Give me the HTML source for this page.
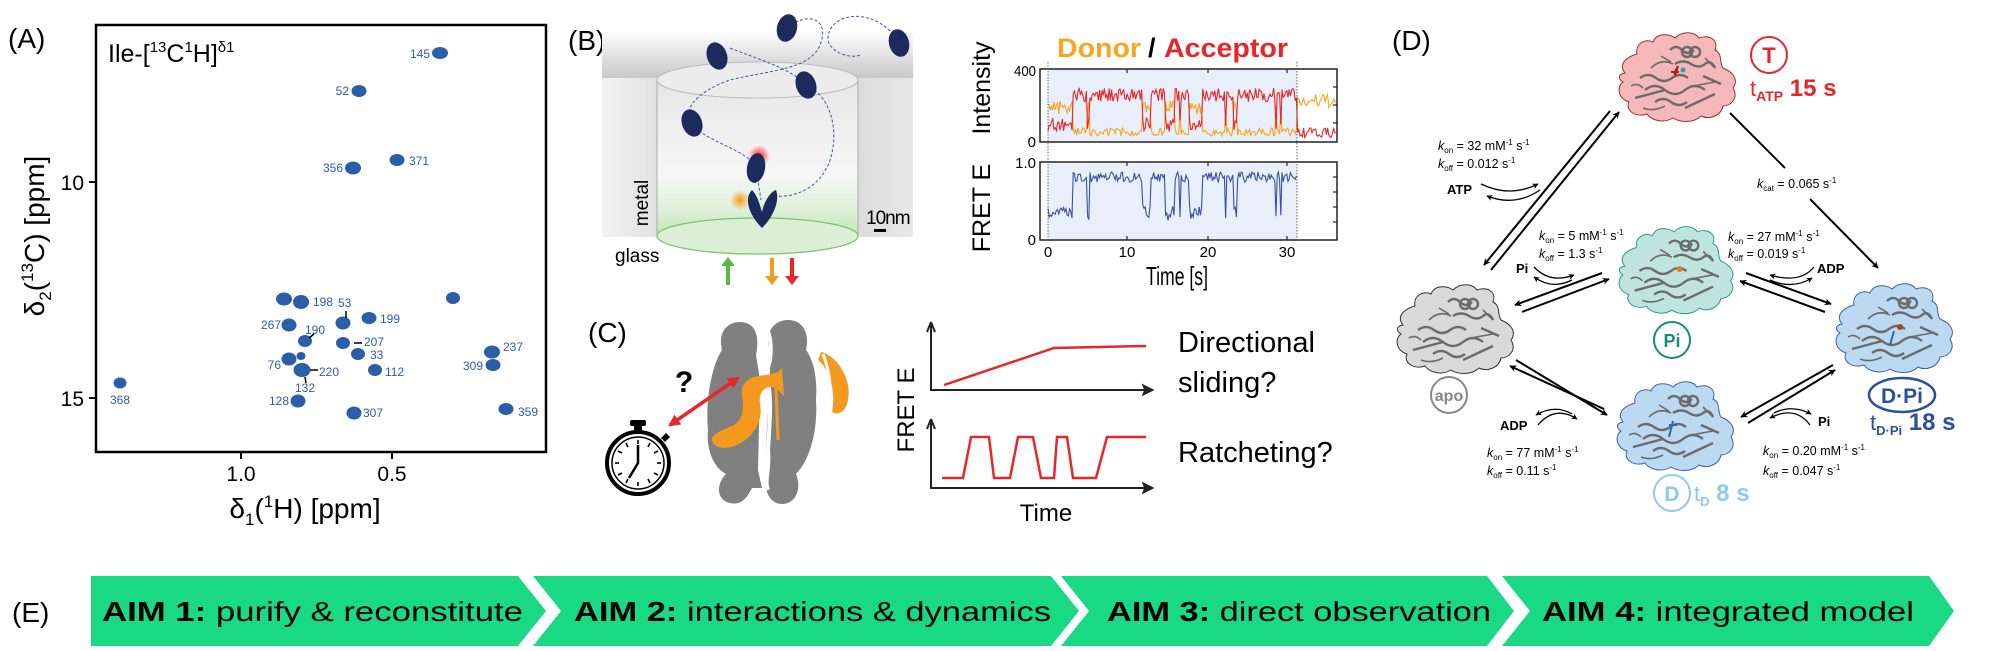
<!DOCTYPE html>
<html><head><meta charset="utf-8">
<style>
html,body{margin:0;padding:0;background:#fff;}
svg{display:block;font-family:"Liberation Sans",sans-serif;}
</style></head>
<body>
<svg id="s" width="1990" height="651" viewBox="0 0 1990 651" xmlns="http://www.w3.org/2000/svg">
<defs>
<marker id="ah" viewBox="0 0 10 10" refX="9" refY="5" markerWidth="7" markerHeight="7" orient="auto-start-reverse" markerUnits="userSpaceOnUse"><path d="M0,0 L10,5 L0,10 L3,5 z" fill="#000"/></marker>
<marker id="ahs" viewBox="0 0 10 10" refX="9" refY="5" markerWidth="6" markerHeight="6" orient="auto" markerUnits="userSpaceOnUse"><path d="M0,0 L10,5 L0,10 L3,5 z" fill="#000"/></marker>
<marker id="ahr" viewBox="0 0 10 10" refX="8" refY="5" markerWidth="12" markerHeight="12" orient="auto-start-reverse" markerUnits="userSpaceOnUse"><path d="M0,0 L10,5 L0,10 z" fill="#e8262a"/></marker>
<marker id="ahk" viewBox="0 0 10 10" refX="8" refY="5" markerWidth="13" markerHeight="13" orient="auto" markerUnits="userSpaceOnUse"><path d="M0,0 L10,5 L0,10 L2,5 z" fill="#222"/></marker>
<linearGradient id="topg" x1="0" y1="0" x2="0" y2="1"><stop offset="0" stop-color="#fff"/><stop offset="1" stop-color="#c8c8c8"/></linearGradient>
<linearGradient id="slab" x1="0" y1="0" x2="1" y2="0"><stop offset="0" stop-color="#f2f2f2"/><stop offset="0.5" stop-color="#c4c4c4"/><stop offset="1" stop-color="#e8e8e8"/></linearGradient>
<linearGradient id="cyl" x1="0" y1="0" x2="0" y2="1"><stop offset="0" stop-color="#e6e6e6"/><stop offset="0.55" stop-color="#f7f7f7"/><stop offset="0.78" stop-color="#d8efd2"/><stop offset="1" stop-color="#a8dc98"/></linearGradient>
<radialGradient id="rglow"><stop offset="0" stop-color="#ff2020"/><stop offset="1" stop-color="#ff2020" stop-opacity="0"/></radialGradient>
<radialGradient id="oglow"><stop offset="0" stop-color="#ff9a10"/><stop offset="1" stop-color="#ff9a10" stop-opacity="0"/></radialGradient>
<path id="blob" d="M10,45 C2,35 14,28 22,26 C20,16 30,10 38,14 C42,4 55,6 60,10 C68,2 80,4 84,10 C94,6 104,12 100,22 C108,26 104,34 108,40 C118,44 124,52 118,60 C124,70 116,78 108,78 C106,88 94,92 86,88 C78,96 64,94 58,90 C48,96 36,92 32,86 C20,90 10,82 14,74 C2,70 2,58 8,54 C2,50 4,46 10,45 Z"/>
<g id="ribbon" fill="none" stroke="#6b6b6b" stroke-width="2.4">
<path d="M25,50 q8,-6 16,0 t16,0 t16,0"/><path d="M30,62 q10,-8 20,0 t20,0 t20,0"/><path d="M40,74 q8,-6 16,0 t16,0"/>
<path d="M55,22 q6,-6 12,0 t12,0"/><path d="M60,36 q8,-5 16,0 t14,0 t10,4"/>
<circle cx="72" cy="24" r="5"/><circle cx="80" cy="24" r="5"/><path d="M20,70 l30,-8 M70,80 l30,-14 M88,48 l18,8"/>
<path d="M16,58 q6,-4 12,2 M36,40 q10,-10 22,-4 M90,30 l10,10 M28,80 q10,4 22,-2 M78,58 l22,-4 M46,28 l10,6" stroke-width="1.6"/>
</g>
</defs>

<!-- ============ PANEL A ============ -->
<text x="8" y="48" font-size="28">(A)</text>
<rect x="96" y="25" width="450" height="427" fill="none" stroke="#000" stroke-width="2.5"/>
<text x="108" y="62" font-size="25">Ile-[<tspan font-size="15" dy="-10">13</tspan><tspan dy="10">C</tspan><tspan font-size="15" dy="-10">1</tspan><tspan dy="10">H]</tspan><tspan font-size="15" dy="-10">δ1</tspan></text>
<g stroke="#000" stroke-width="2"><line x1="89" y1="182" x2="96" y2="182"/><line x1="89" y1="398" x2="96" y2="398"/><line x1="241" y1="452" x2="241" y2="459"/><line x1="392" y1="452" x2="392" y2="459"/></g>
<g font-size="21"><text x="84" y="190" text-anchor="end">10</text><text x="84" y="406" text-anchor="end">15</text>
<text x="241" y="481" text-anchor="middle">1.0</text><text x="392" y="481" text-anchor="middle">0.5</text></g>
<text x="305" y="518" font-size="28" text-anchor="middle">δ<tspan font-size="17" dy="7">1</tspan><tspan dy="-7">(</tspan><tspan font-size="17" dy="-11">1</tspan><tspan dy="11">H)  [ppm]</tspan></text>
<text transform="translate(44,236) rotate(-90)" font-size="28" text-anchor="middle">δ<tspan font-size="17" dy="7">2</tspan><tspan dy="-7">(</tspan><tspan font-size="17" dy="-11">13</tspan><tspan dy="11">C) [ppm]</tspan></text>
<g fill="#2a5ea8">
<ellipse cx="440" cy="53" rx="8" ry="6"/><ellipse cx="359" cy="91" rx="7.5" ry="6"/><ellipse cx="353" cy="168" rx="8" ry="6.5"/><ellipse cx="397" cy="160" rx="7.5" ry="6"/>
<ellipse cx="284" cy="299" rx="8" ry="6.5"/><ellipse cx="301" cy="302" rx="8" ry="7"/><ellipse cx="343" cy="323" rx="7.5" ry="6.5"/><ellipse cx="369" cy="318" rx="7.5" ry="6"/>
<ellipse cx="289" cy="325" rx="7.5" ry="6.5"/><ellipse cx="305" cy="341" rx="7" ry="6"/><ellipse cx="343" cy="343" rx="7" ry="6"/><ellipse cx="358" cy="354" rx="7" ry="6"/>
<ellipse cx="289" cy="359" rx="7.5" ry="6.5"/><ellipse cx="301" cy="356" rx="4.5" ry="4"/><ellipse cx="302" cy="370" rx="8.5" ry="7"/><ellipse cx="375" cy="370" rx="7" ry="6"/>
<ellipse cx="492" cy="352" rx="8" ry="6.5"/><ellipse cx="493" cy="365" rx="7.5" ry="6"/><ellipse cx="298" cy="401" rx="7.5" ry="6.5"/><ellipse cx="354" cy="413" rx="7.5" ry="6.5"/>
<ellipse cx="506" cy="409" rx="7.5" ry="6"/><ellipse cx="120" cy="383" rx="6.5" ry="5.5"/><ellipse cx="453" cy="298" rx="7" ry="6"/>
</g>
<g fill="#2a5ea8" font-size="12">
<text x="430" y="58" text-anchor="end">145</text><text x="349" y="95" text-anchor="end">52</text><text x="343" y="172" text-anchor="end">356</text><text x="409" y="165">371</text>
<text x="313" y="306">198</text><text x="338" y="307">53</text><text x="380" y="323">199</text><text x="281" y="329" text-anchor="end">267</text><text x="305" y="334">190</text>
<text x="364" y="346">207</text><text x="370" y="359">33</text><text x="281" y="369" text-anchor="end">76</text><text x="319" y="376">220</text><text x="295" y="392">132</text>
<text x="385" y="376">112</text><text x="503" y="351">237</text><text x="483" y="370" text-anchor="end">309</text><text x="289" y="405" text-anchor="end">128</text>
<text x="363" y="417">307</text><text x="518" y="416">359</text><text x="120" y="404" text-anchor="middle">368</text>
</g>
<g stroke="#000" stroke-width="1.5"><line x1="346" y1="311" x2="346" y2="318"/><line x1="354" y1="343" x2="362" y2="343"/><line x1="310" y1="370" x2="318" y2="370"/><line x1="305" y1="377" x2="306" y2="383"/><line x1="309" y1="338" x2="314" y2="334"/></g>

<!-- ============ PANEL B ============ -->
<text x="568" y="50" font-size="28">(B)</text>
<path d="M602,30 L913,30 L913,78 L602,78 Z" fill="url(#topg)"/>
<rect x="602" y="78" width="311" height="159" fill="url(#slab)"/>
<path d="M657,80 L858,80 L858,236 A100.5,18 0 0 1 657,236 Z" fill="url(#cyl)" stroke="#aaa" stroke-width="1"/>
<ellipse cx="757.5" cy="80" rx="100.5" ry="18" fill="#ececec" stroke="#bbb"/>
<ellipse cx="757.5" cy="236" rx="100.5" ry="18" fill="#dcefd6" stroke="#7cc46a" stroke-width="1.2"/>
<g fill="none" stroke="#3a5aa0" stroke-width="1" stroke-dasharray="3,2">
<path d="M730,48 C760,60 790,68 806,85 C830,95 840,130 830,160 C820,190 790,200 770,195"/>
<path d="M787,28 C810,10 830,20 820,45 C810,70 770,70 730,80 C700,90 680,110 692,123 C700,140 750,150 756,168"/>
<path d="M899,43 C880,10 840,10 830,30 C820,50 850,60 860,55"/>
<path d="M756,168 L761,200"/>
</g>
<g fill="#1c2a5e">
<ellipse cx="787" cy="28" rx="10" ry="14" transform="rotate(15 787 28)"/><ellipse cx="899" cy="43" rx="10" ry="14" transform="rotate(-15 899 43)"/>
<ellipse cx="717" cy="56" rx="10" ry="14" transform="rotate(-20 717 56)"/><ellipse cx="806" cy="85" rx="10" ry="14" transform="rotate(-20 806 85)"/>
<ellipse cx="692" cy="123" rx="10" ry="14" transform="rotate(-20 692 123)"/>
</g>
<circle cx="759" cy="156" r="11" fill="url(#rglow)"/>
<ellipse cx="756" cy="168" rx="9" ry="15" fill="#1c2a5e" transform="rotate(10 756 168)"/>
<circle cx="740" cy="200" r="10" fill="url(#oglow)"/>
<path d="M762,228 C748,214 744,198 752,190 C758,196 760,206 762,212 C764,202 770,192 776,190 C780,200 774,216 762,228 Z" fill="#1c2a5e"/>
<text transform="translate(648,203) rotate(-90)" font-size="19" text-anchor="middle">metal</text>
<text x="615" y="262" font-size="19">glass</text>
<text x="866" y="224" font-size="19" letter-spacing="-1">10nm</text>
<rect x="874" y="229" width="12" height="3" fill="#000"/>
<line x1="728" y1="285" x2="728" y2="262" stroke="#5cb840" stroke-width="4"/><path d="M721,266 L728,257 L735,266 Z" fill="#5cb840"/>
<line x1="772" y1="258" x2="772" y2="279" stroke="#f59a1e" stroke-width="4"/><path d="M765,276 L772,285 L779,276 Z" fill="#f59a1e"/>
<line x1="792" y1="258" x2="792" y2="279" stroke="#e8262a" stroke-width="4"/><path d="M785,276 L792,285 L799,276 Z" fill="#e8262a"/>

<!-- plots B -->
<text x="1057" y="57" font-size="27" font-weight="bold" fill="#f5a623" textLength="84" lengthAdjust="spacingAndGlyphs">Donor</text>
<text x="1148" y="57" font-size="27" font-weight="bold">/</text>
<text x="1164" y="57" font-size="27" font-weight="bold" fill="#e8262a" textLength="124" lengthAdjust="spacingAndGlyphs">Acceptor</text>
<text transform="translate(990,88) rotate(-90)" font-size="25" text-anchor="middle">Intensity</text>
<text transform="translate(990,208) rotate(-90)" font-size="25" text-anchor="middle">FRET E</text>
<rect x="1048" y="69" width="249" height="73" fill="#e8effa"/>
<rect x="1048" y="162" width="249" height="78" fill="#e8effa"/>
<g id="traces"></g>
<rect x="1040" y="69" width="297" height="73" fill="none" stroke="#222" stroke-width="1.5"/>
<rect x="1040" y="162" width="297" height="78" fill="none" stroke="#222" stroke-width="1.5"/>
<g stroke="#222" stroke-width="1.2">
<line x1="1127" y1="69" x2="1127" y2="73"/><line x1="1208" y1="69" x2="1208" y2="73"/><line x1="1287" y1="69" x2="1287" y2="73"/>
<line x1="1127" y1="162" x2="1127" y2="166"/><line x1="1208" y1="162" x2="1208" y2="166"/><line x1="1287" y1="162" x2="1287" y2="166"/>
<line x1="1127" y1="240" x2="1127" y2="236"/><line x1="1208" y1="240" x2="1208" y2="236"/><line x1="1287" y1="240" x2="1287" y2="236"/>
<line x1="1337" y1="87" x2="1333" y2="87"/><line x1="1337" y1="105" x2="1333" y2="105"/><line x1="1337" y1="123" x2="1333" y2="123"/>
<line x1="1337" y1="177" x2="1333" y2="177"/><line x1="1337" y1="192" x2="1333" y2="192"/><line x1="1337" y1="207" x2="1333" y2="207"/><line x1="1337" y1="222" x2="1333" y2="222"/>
</g>
<g stroke="#444" stroke-width="0.8" stroke-dasharray="1.5,1.5"><line x1="1048" y1="62" x2="1048" y2="240"/><line x1="1297" y1="62" x2="1297" y2="240"/></g>
<g font-size="15" text-anchor="end"><text x="1036" y="76" textLength="22" lengthAdjust="spacingAndGlyphs">400</text><text x="1036" y="147">0</text><text x="1036" y="168">1.0</text><text x="1036" y="245">0</text></g>
<g font-size="15" text-anchor="middle"><text x="1048" y="257">0</text><text x="1127" y="257">10</text><text x="1208" y="257">20</text><text x="1287" y="257">30</text></g>
<text x="1177" y="285" font-size="26" text-anchor="middle" textLength="62" lengthAdjust="spacingAndGlyphs">Time [s]</text>

<!-- ============ PANEL C ============ -->
<text x="588" y="342" font-size="28">(C)</text>
<path d="M740,322 C725,322 718,335 722,350 C712,365 705,400 708,430 C706,450 714,468 726,474 C716,484 716,500 730,503 C742,506 748,496 752,488 L762,488 L758,470 L760,380 L756,355 C760,335 755,322 740,322 Z" fill="#808080"/>
<path d="M788,320 C772,320 764,335 770,352 L770,380 C768,420 764,450 768,470 C762,486 768,504 782,504 C796,504 802,488 796,474 C810,460 818,430 816,400 C818,370 810,355 806,350 C810,332 802,320 788,320 Z" fill="#808080"/>
<path d="M763,323 C770,330 772,345 770,360 L766,375 C772,390 770,420 768,450 C770,470 764,480 768,490" fill="none" stroke="#fff" stroke-width="4"/>
<path d="M821,352 C838,356 852,380 848,400 C846,412 838,416 832,412 C836,392 830,370 818,360 Z" fill="#f59a1e"/>
<path d="M823,354 C830,372 832,392 828,412" fill="none" stroke="#fff" stroke-width="3"/>
<path d="M712,438 C720,426 738,430 742,414 C746,398 736,390 748,380 C756,374 770,376 778,372 L782,368 L784,396 L776,388 C766,384 758,392 760,404 C764,424 750,440 734,446 C724,450 712,448 712,438 Z" fill="#f59a1e"/>
<path d="M776,388 L778,440" stroke="#f59a1e" stroke-width="3"/>
<line x1="670" y1="425" x2="738" y2="378" stroke="#e8262a" stroke-width="3.5" marker-start="url(#ahr)" marker-end="url(#ahr)"/>
<text x="684" y="392" font-size="30" font-weight="bold" text-anchor="middle">?</text>
<rect x="634" y="424" width="8" height="8" fill="#000"/><rect x="630" y="420" width="16" height="6" rx="2" fill="#000"/>
<path d="M661,438 l5,-5 l4,4 l-5,5 z" fill="#000"/>
<circle cx="638" cy="463" r="31" fill="#fff" stroke="#000" stroke-width="4"/>
<circle cx="638" cy="463" r="26" fill="none" stroke="#000" stroke-width="1.5"/>
<g stroke="#000" stroke-width="1.6"><line x1="638" y1="440" x2="638" y2="444"/><line x1="638" y1="482" x2="638" y2="486"/><line x1="615" y1="463" x2="619" y2="463"/><line x1="657" y1="463" x2="661" y2="463"/>
<line x1="650" y1="443" x2="648" y2="447"/><line x1="626" y1="443" x2="628" y2="447"/><line x1="650" y1="483" x2="648" y2="479"/><line x1="626" y1="483" x2="628" y2="479"/>
<line x1="618" y1="451" x2="622" y2="453"/><line x1="658" y1="451" x2="654" y2="453"/><line x1="618" y1="475" x2="622" y2="473"/><line x1="658" y1="475" x2="654" y2="473"/></g>
<path d="M638,445 L638,463 L629,478" fill="none" stroke="#000" stroke-width="2.5"/>
<path d="M931,322 L931,390 L1152,390" fill="none" stroke="#222" stroke-width="2" marker-end="url(#ahk)"/>
<path d="M931,322 l-4,10 M931,322 l4,10" stroke="#222" stroke-width="2"/>
<path d="M931,419 L931,488 L1152,488" fill="none" stroke="#222" stroke-width="2" marker-end="url(#ahk)"/>
<path d="M931,419 l-4,10 M931,419 l4,10" stroke="#222" stroke-width="2"/>
<polyline points="944,385 1054,348 1146,346" fill="none" stroke="#e8262a" stroke-width="2.5"/>
<polyline points="942,478 963,478 971,437 989,437 994,478 1010,478 1018,437 1033,437 1041,478 1054,478 1057,437 1067,437 1073,478 1096,478 1107,437 1146,437" fill="none" stroke="#e8262a" stroke-width="2.5"/>
<text transform="translate(914,410) rotate(-90)" font-size="24" text-anchor="middle">FRET E</text>
<text x="1046" y="521" font-size="24" text-anchor="middle">Time</text>
<text x="1178" y="352" font-size="29">Directional</text>
<text x="1178" y="392" font-size="29">sliding?</text>
<text x="1178" y="462" font-size="29">Ratcheting?</text>

<!-- ============ PANEL D ============ -->
<text x="1392" y="50" font-size="28">(D)</text>
<g transform="translate(1615,28)"><use href="#blob" fill="#f5b8ba" stroke="#9c3030" stroke-width="1"/><use href="#ribbon"/><path d="M60,48 l3,-10 l-4,8 M56,44 l8,0" stroke="#c01818" stroke-width="2"/><circle cx="68" cy="42" r="2.5" fill="#1aa6a6"/></g>
<g transform="translate(1393,280)"><use href="#blob" fill="#d9d9d9" stroke="#333" stroke-width="1"/><use href="#ribbon"/></g>
<g transform="translate(1615,222) scale(0.98,0.98)"><use href="#blob" fill="#bfe3dd" stroke="#2a9a8a" stroke-width="1"/><use href="#ribbon"/><circle cx="66" cy="48" r="3" fill="#e07a1a"/></g>
<g transform="translate(1832,279)"><use href="#blob" fill="#bcd9f2" stroke="#3a62a8" stroke-width="1"/><use href="#ribbon"/><circle cx="68" cy="48" r="3" fill="#a04a20"/><path d="M62,52 l-4,14" stroke="#2a6ab0" stroke-width="2"/></g>
<g transform="translate(1613,377)"><use href="#blob" fill="#bcd9f2" stroke="#3a62a8" stroke-width="1"/><use href="#ribbon"/><path d="M60,44 l-4,16 M56,48 l8,0" stroke="#2a6ab0" stroke-width="2"/></g>
<ellipse cx="1769" cy="55" rx="18" ry="18" fill="none" stroke="#e8262a" stroke-width="2"/>
<text x="1769" y="63" font-size="22" font-weight="bold" fill="#e8262a" text-anchor="middle">T</text>
<text x="1750" y="96" font-size="22" fill="#e8262a">t<tspan font-size="14" font-weight="bold" dy="5">ATP</tspan><tspan dy="-5" font-weight="bold" font-size="24"> 15 s</tspan></text>
<ellipse cx="1672" cy="340" rx="18" ry="18" fill="none" stroke="#1a8a80" stroke-width="2"/>
<text x="1672" y="347" font-size="18" font-weight="bold" fill="#1a8a80" text-anchor="middle">Pi</text>
<ellipse cx="1449" cy="395" rx="18" ry="18" fill="none" stroke="#888" stroke-width="2"/>
<text x="1449" y="401" font-size="16" font-weight="bold" fill="#888" text-anchor="middle">apo</text>
<ellipse cx="1902" cy="395" rx="33" ry="17" fill="none" stroke="#2a4fa0" stroke-width="2.5"/>
<text x="1902" y="403" font-size="21" font-weight="bold" fill="#2a4fa0" text-anchor="middle">D·Pi</text>
<text x="1870" y="430" font-size="22" fill="#2a4fa0">t<tspan font-size="13" font-weight="bold" dy="5">D·Pi</tspan><tspan dy="-5" font-weight="bold" font-size="24"> 18 s</tspan></text>
<ellipse cx="1672" cy="493" rx="18" ry="18" fill="none" stroke="#8ec9ee" stroke-width="2"/>
<text x="1672" y="501" font-size="21" font-weight="bold" fill="#8ec9ee" text-anchor="middle">D</text>
<text x="1694" y="501" font-size="22" fill="#8ec9ee">t<tspan font-size="13" font-weight="bold" dy="5">D</tspan><tspan dy="-5" font-weight="bold" font-size="24"> 8 s</tspan></text>
<g stroke="#000" stroke-width="2" fill="none">
<line x1="1610" y1="111" x2="1484" y2="265" marker-end="url(#ah)"/>
<line x1="1491" y1="270" x2="1619" y2="112" marker-end="url(#ah)"/>
<line x1="1730" y1="113" x2="1785" y2="168"/>
<line x1="1810" y1="199" x2="1878" y2="268" marker-end="url(#ah)"/>
<line x1="1602" y1="273" x2="1515" y2="305" marker-end="url(#ah)"/>
<line x1="1522" y1="312" x2="1609" y2="279" marker-end="url(#ah)"/>
<line x1="1746" y1="273" x2="1831" y2="304" marker-end="url(#ah)"/>
<line x1="1825" y1="312" x2="1740" y2="281" marker-end="url(#ah)"/>
<line x1="1604" y1="409" x2="1510" y2="366" marker-end="url(#ah)"/>
<line x1="1516" y1="360" x2="1607" y2="415" marker-end="url(#ah)"/>
<line x1="1833" y1="365" x2="1741" y2="417" marker-end="url(#ah)"/>
<line x1="1748" y1="423" x2="1835" y2="370" marker-end="url(#ah)"/>
</g>
<g stroke="#000" stroke-width="1.3" fill="none">
<path d="M1481,184 Q1510,198 1538,184" marker-end="url(#ahs)"/><path d="M1540,190 Q1515,207 1487,196" marker-end="url(#ahs)"/>
<path d="M1534,267 Q1550,284 1574,275" marker-end="url(#ahs)"/><path d="M1572,280 Q1552,290 1534,277" marker-end="url(#ahs)"/>
<path d="M1814,267 Q1800,284 1770,275" marker-end="url(#ahs)"/><path d="M1770,280 Q1792,290 1812,278" marker-end="url(#ahs)"/>
<path d="M1538,425 Q1555,405 1577,419" marker-end="url(#ahs)"/><path d="M1572,414 Q1555,404 1536,415" marker-end="url(#ahs)"/>
<path d="M1810,425 Q1795,405 1770,418" marker-end="url(#ahs)"/><path d="M1774,413 Q1792,404 1811,414" marker-end="url(#ahs)"/>
</g>
<g font-size="12.5">
<text x="1438" y="150"><tspan font-style="italic">k</tspan><tspan font-size="8" dy="3">on</tspan><tspan dy="-3"> = 32 mM</tspan><tspan font-size="8" dy="-5">-1</tspan><tspan dy="5"> s</tspan><tspan font-size="8" dy="-5">-1</tspan></text>
<text x="1438" y="168"><tspan font-style="italic">k</tspan><tspan font-size="8" dy="3">off</tspan><tspan dy="-3"> = 0.012 s</tspan><tspan font-size="8" dy="-5">-1</tspan></text>
<text x="1757" y="188"><tspan font-style="italic">k</tspan><tspan font-size="8" dy="3">cat</tspan><tspan dy="-3"> = 0.065 s</tspan><tspan font-size="8" dy="-5">-1</tspan></text>
<text x="1539" y="240"><tspan font-style="italic">k</tspan><tspan font-size="8" dy="3">on</tspan><tspan dy="-3"> = 5 mM</tspan><tspan font-size="8" dy="-5">-1</tspan><tspan dy="5"> s</tspan><tspan font-size="8" dy="-5">-1</tspan></text>
<text x="1539" y="258"><tspan font-style="italic">k</tspan><tspan font-size="8" dy="3">off</tspan><tspan dy="-3"> = 1.3 s</tspan><tspan font-size="8" dy="-5">-1</tspan></text>
<text x="1728" y="241"><tspan font-style="italic">k</tspan><tspan font-size="8" dy="3">on</tspan><tspan dy="-3"> = 27 mM</tspan><tspan font-size="8" dy="-5">-1</tspan><tspan dy="5"> s</tspan><tspan font-size="8" dy="-5">-1</tspan></text>
<text x="1728" y="258"><tspan font-style="italic">k</tspan><tspan font-size="8" dy="3">off</tspan><tspan dy="-3"> = 0.019 s</tspan><tspan font-size="8" dy="-5">-1</tspan></text>
<text x="1487" y="457"><tspan font-style="italic">k</tspan><tspan font-size="8" dy="3">on</tspan><tspan dy="-3"> = 77 mM</tspan><tspan font-size="8" dy="-5">-1</tspan><tspan dy="5"> s</tspan><tspan font-size="8" dy="-5">-1</tspan></text>
<text x="1487" y="475"><tspan font-style="italic">k</tspan><tspan font-size="8" dy="3">off</tspan><tspan dy="-3"> = 0.11 s</tspan><tspan font-size="8" dy="-5">-1</tspan></text>
<text x="1763" y="455"><tspan font-style="italic">k</tspan><tspan font-size="8" dy="3">on</tspan><tspan dy="-3"> = 0.20 mM</tspan><tspan font-size="8" dy="-5">-1</tspan><tspan dy="5"> s</tspan><tspan font-size="8" dy="-5">-1</tspan></text>
<text x="1763" y="475"><tspan font-style="italic">k</tspan><tspan font-size="8" dy="3">off</tspan><tspan dy="-3"> = 0.047 s</tspan><tspan font-size="8" dy="-5">-1</tspan></text>
</g>
<g font-size="13" font-weight="bold">
<text x="1447" y="194">ATP</text><text x="1516" y="273">Pi</text><text x="1817" y="273">ADP</text><text x="1500" y="430">ADP</text><text x="1818" y="426">Pi</text>
</g>

<!-- ============ PANEL E ============ -->
<text x="12" y="622" font-size="28">(E)</text>
<g fill="#19d984">
<polygon points="91,576 518,576 546,611 518,646 91,646"/>
<polygon points="533,576 1051,576 1079,611 1051,646 533,646 561,611"/>
<polygon points="1061,576 1487,576 1514,611 1487,646 1061,646 1089,611"/>
<polygon points="1502,576 1929,576 1954,611 1929,646 1502,646 1530,611"/>
</g>
<g font-size="28">
<text x="102" y="621" textLength="421" lengthAdjust="spacingAndGlyphs"><tspan font-weight="bold">AIM 1:</tspan> purify &amp; reconstitute</text>
<text x="574" y="621" textLength="477" lengthAdjust="spacingAndGlyphs"><tspan font-weight="bold">AIM 2:</tspan> interactions &amp; dynamics</text>
<text x="1107" y="621" textLength="384" lengthAdjust="spacingAndGlyphs"><tspan font-weight="bold">AIM 3:</tspan> direct observation</text>
<text x="1542" y="621" textLength="372" lengthAdjust="spacingAndGlyphs"><tspan font-weight="bold">AIM 4:</tspan> integrated model</text>
</g>
</svg>
<script>
(function(){
var seed=7;function r(){seed=(seed*16807)%2147483647;return (seed-1)/2147483646;}
var g=document.getElementById('traces');var NS="http://www.w3.org/2000/svg";
var acc=[],don=[],fr=[];var state=1;
for(var x=1048;x<=1337;x+=1.2){
 if(x<1297){ if(r()<(state?0.06:0.25)) state=1-state;
  var a=state?88+r()*14:118+r()*14, d=state?128+r()*8:100+r()*15;
  var f=state?172+r()*10:205+r()*16;
  acc.push(x.toFixed(1)+","+a.toFixed(1));don.push(x.toFixed(1)+","+d.toFixed(1));fr.push(x.toFixed(1)+","+f.toFixed(1));
 } else {
  acc.push(x.toFixed(1)+","+(128+r()*10).toFixed(1));don.push(x.toFixed(1)+","+(94+r()*14).toFixed(1));
 }
}
function pl(p,c){var e=document.createElementNS(NS,'polyline');e.setAttribute('points',p.join(' '));e.setAttribute('fill','none');e.setAttribute('stroke',c);e.setAttribute('stroke-width','1.1');g.appendChild(e);}
pl(don,'#f5a623');pl(acc,'#e8262a');pl(fr,'#3a50a8');
})();
</script>
</body></html>
